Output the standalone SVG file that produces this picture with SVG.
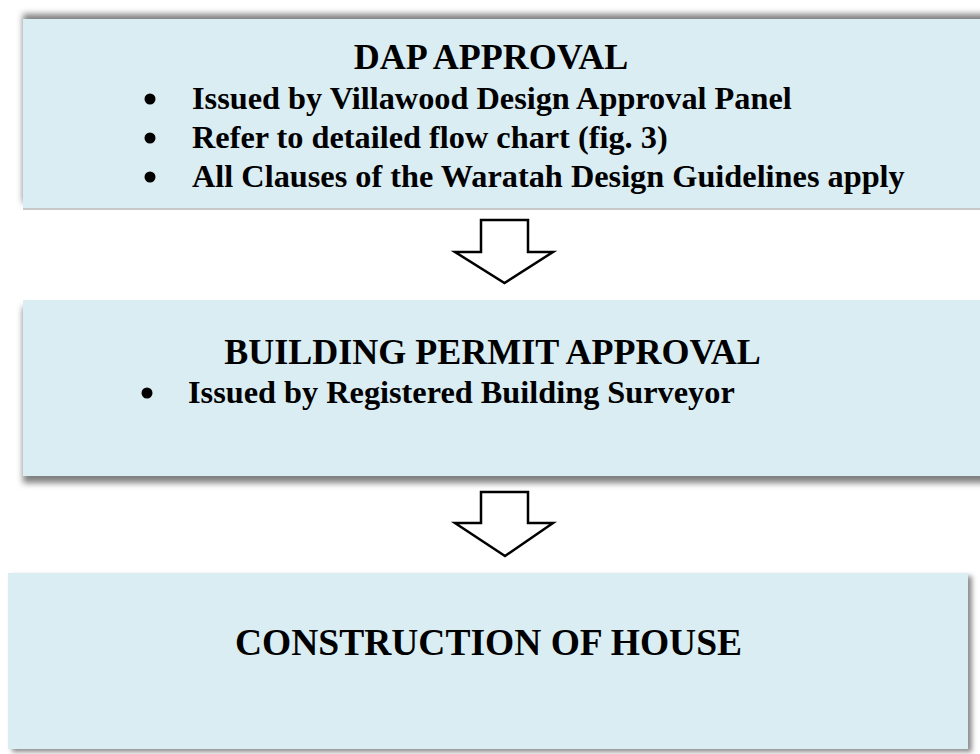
<svg xmlns="http://www.w3.org/2000/svg" width="980" height="754" viewBox="0 0 980 754">
<defs>
<style>
.box{fill:#DAEDF3}
.title{font-family:"Liberation Serif","Times New Roman",serif;font-weight:bold;font-size:36px;fill:#000;text-anchor:middle}
.item{font-family:"Liberation Serif","Times New Roman",serif;font-weight:bold;font-size:32.3px;fill:#000}
.arrow{fill:#fff;stroke:#000;stroke-width:2.5;stroke-linejoin:miter}
</style>
<filter id="shUp" x="-5%" y="-20%" width="110%" height="140%">
<feDropShadow dx="0" dy="-5" stdDeviation="3" flood-color="#000" flood-opacity="0.5"/>
</filter>
<filter id="shDown" x="-5%" y="-20%" width="110%" height="140%">
<feDropShadow dx="0" dy="7" stdDeviation="3" flood-color="#000" flood-opacity="0.5"/>
</filter>
<filter id="shRB" x="-5%" y="-20%" width="110%" height="140%">
<feDropShadow dx="4" dy="3" stdDeviation="2.5" flood-color="#000" flood-opacity="0.45"/>
</filter>
</defs>
<rect width="980" height="754" fill="#fff"/>

<g id="node-dap">
<rect class="box" x="23" y="19" width="965" height="189" filter="url(#shUp)"/>
<rect x="23" y="208" width="965" height="2" fill="#c8c8c8"/>
<text class="title" x="491" y="69">DAP APPROVAL</text>
<circle cx="150" cy="99" r="5.5"/>
<circle cx="150" cy="138" r="5.5"/>
<circle cx="150" cy="177" r="5.5"/>
<text class="item" x="192" y="109">Issued by Villawood Design Approval Panel</text>
<text class="item" x="192" y="148">Refer to detailed flow chart (fig. 3)</text>
<text class="item" x="192" y="187">All Clauses of the Waratah Design Guidelines apply</text>
</g>

<g id="node-permit">
<rect class="box" x="23" y="300" width="965" height="176" filter="url(#shDown)"/>
<text class="title" x="492.5" y="364">BUILDING PERMIT APPROVAL</text>
<circle cx="147" cy="393" r="5.5"/>
<text class="item" x="188" y="403">Issued by Registered Building Surveyor</text>
</g>

<g id="node-construction">
<rect class="box" x="8" y="573" width="960" height="176" filter="url(#shRB)"/>
<text class="title" x="488.5" y="655" style="font-size:37.5px">CONSTRUCTION OF HOUSE</text>
</g>

<g id="connectors">
<polygon class="arrow" points="481,220 528,220 528,252 553,252 504.5,283 455,252 481,252"/>
<polygon class="arrow" points="481,492 528,492 528,523 553,523 505,556 455,523 481,523"/>
</g>
</svg>
